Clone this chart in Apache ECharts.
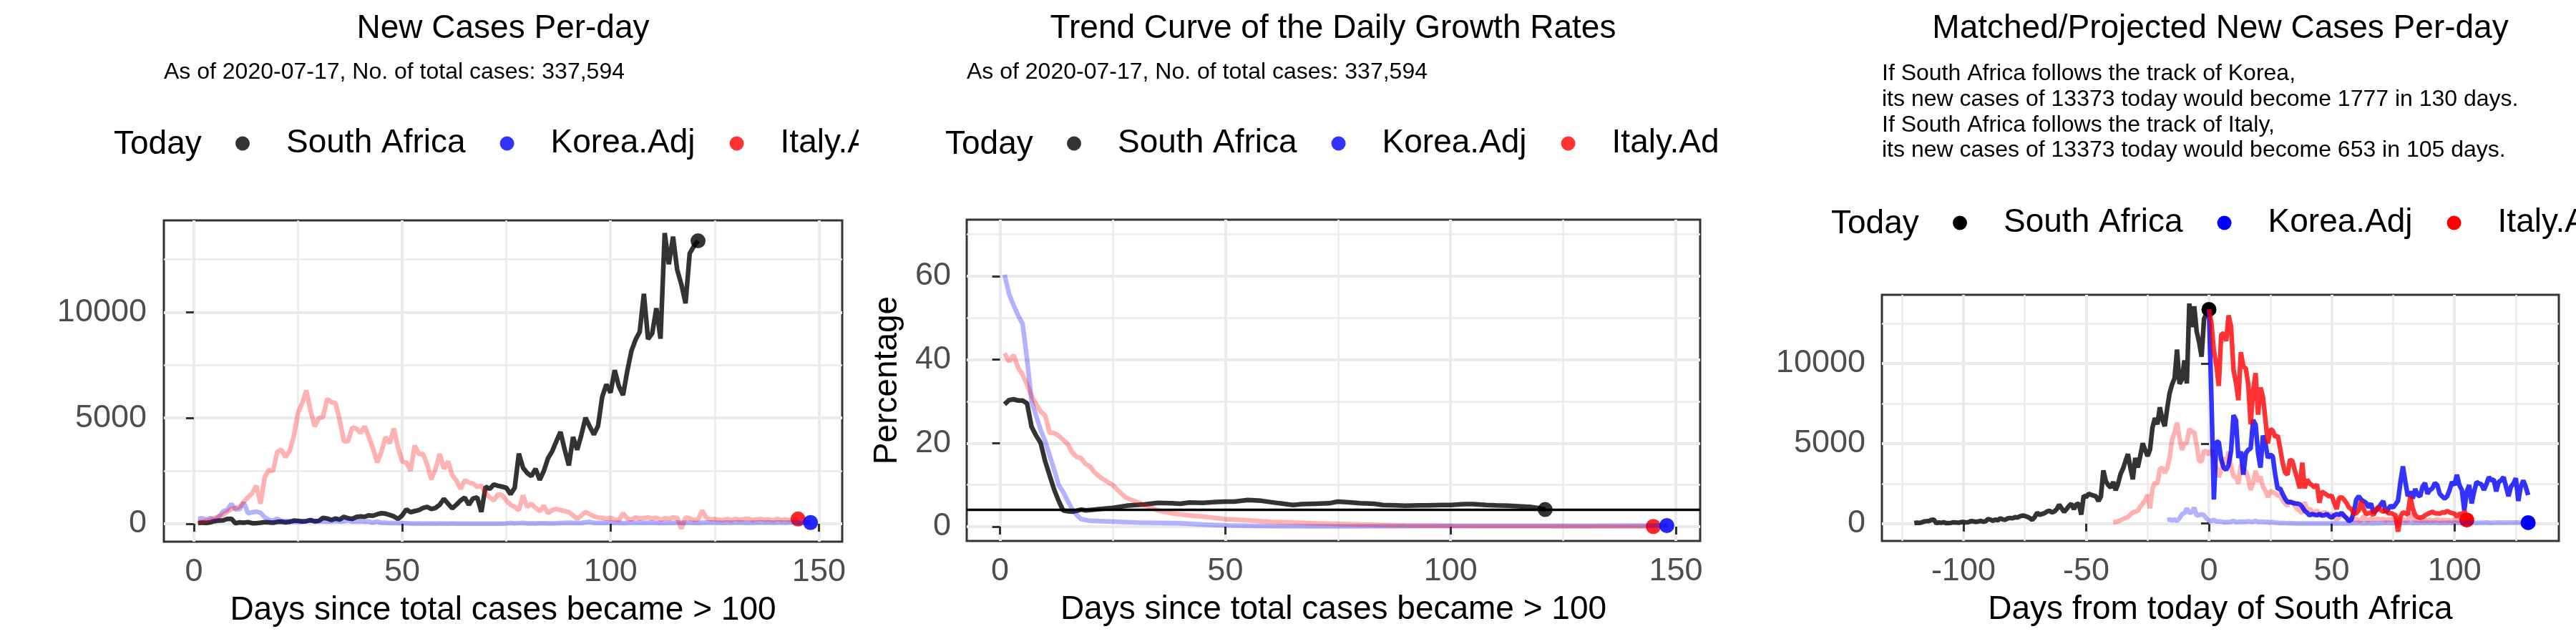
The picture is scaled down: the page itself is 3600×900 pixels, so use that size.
<!DOCTYPE html>
<html lang="en">
<head>
  <meta charset="UTF-8">
  <title>South Africa - new cases per day</title>
  <script src="https://cdn.jsdelivr.net/npm/echarts@6.0.0/dist/echarts.min.js"></script>
  <style>
    body { margin: 0; background: #fff; }
    #wrap { width: 3600px; height: 900px; display: flex; }
    .panel { width: 1200px; height: 900px; }
  </style>
</head>
<body>
  <div id="wrap">
    <div class="panel" id="p1"></div>
    <div class="panel" id="p2"></div>
    <div class="panel" id="p3"></div>
  </div>
  <script>
    // daily new cases, day 1 = first day after total cases > 100
    const saNew = [
      30, 55, 40, 70, 130, 150, 160, 230, 240, 20,
      70, 50, 80, 30, 30, 50, 80, 70, 50, 90,
      100, 70, 90, 150, 140, 110, 130, 170, 120, 140,
      280, 250, 180, 250, 200, 330, 260, 230, 320, 350,
      330, 400, 380, 450, 500, 480, 420, 350, 230, 400,
      680, 550, 600, 650, 750, 800, 700, 750, 900, 1180,
      950, 730, 900, 1100, 1240, 900, 1200, 1250, 560, 1750,
      1650, 1860, 1800, 1750, 1700, 1400, 1700, 3320, 2650, 2400,
      2250, 2600, 2080, 2500, 3100, 3430, 3900, 4340, 3500, 2760,
      4100, 3500, 4200, 5010, 4600, 4220, 4620, 6000, 6590, 6200,
      7260, 6500, 6080, 7200, 8160, 8700, 9070, 10870, 8730, 9000,
      10190, 8750, 13740, 12270, 13570, 12000, 11320, 10420, 12780, 13120,
      13373
    ]
    const koreaNew = [
      230, 260, 200, 270, 170, 330, 580, 660, 940, 680,
      690, 1000, 500, 540, 580, 520, 310, 190, 150, 240,
      130, 130, 125, 90, 85, 100, 110, 175, 100, 115,
      120, 110, 120, 145, 120, 115, 170, 105, 125, 115,
      100, 110, 55, 110, 55, 50, 35, 40, 30, 25,
      30, 20, 10, 15, 10, 15, 10, 10, 15, 5,
      10, 15, 5, 10, 5, 5, 5, 10, 5, 5,
      5, 5, 5, 5, 15, 40, 20, 30, 40, 15,
      25, 20, 30, 25, 15, 20, 25, 35, 45, 55,
      45, 30, 40, 70, 90, 45, 45, 45, 45, 60,
      40, 50, 30, 45, 60, 40, 60, 45, 55, 60,
      40, 35, 40, 40, 45, 60, 40, 55, 55, 40,
      45, 55, 60, 60, 55, 50, 45, 60, 55, 60,
      70, 55, 45, 55, 60, 70, 55, 65, 50, 60,
      70, 55, 65, 70, 60, 45, 70, 60
    ]
    const italyNew = [
      80, 100, 150, 200, 280, 350, 420, 560, 700, 750,
      800, 1050, 1250, 1450, 1800, 950, 2200, 2550, 2500, 3400,
      3500, 3150, 3450, 4150, 5250, 5700, 6300, 5350, 4600, 5000,
      5050, 5900, 5750, 5700, 4900, 3900, 3900, 4550, 4500, 4300,
      4600, 4100, 3550, 2900, 3400, 4100, 3800, 4500, 3600, 2950,
      2900, 2500, 3700, 3300, 3300, 2800, 2100, 2600, 3300, 2600,
      2950, 2300, 2050, 1650, 2050, 1950, 1900, 1750, 1800, 1450,
      1250, 1100, 1400, 1350, 1100, 900, 800, 650, 1350, 800,
      950, 750, 600, 850, 500, 650, 700, 650, 600, 550,
      400, 230, 400, 560, 450, 350, 300, 280, 230, 280,
      200, 170, 500, 250, 200, 300, 250, 270, 300, 250,
      290, 200, 260, 230, 300, 280, -230, 300, 250, 180,
      200, 620, 280, 200, 230, 190, 180, 220, 170, 230,
      190, 220, 240, 180, 200, 230, 190, 210, 160, 230,
      180, 200, 170, 210, 225
    ]

    // trend of daily growth rate (%), [day, rate]
    const saRate = [
      [1, 29.3], [2, 30.3], [3, 30.5], [4, 30.2], [5, 30.2], [6, 29.5], [7, 23.9], [8, 21.8],
      [9, 20.1], [10, 15.7], [11, 12.3], [12, 8.9], [13, 6.2], [14, 3.9], [15, 3.7], [16, 3.6],
      [17, 3.8], [18, 4.1], [19, 3.9], [20, 4.0], [22, 4.2], [25, 4.5], [28, 5.0], [30, 5.2],
      [32, 5.3], [35, 5.7], [38, 5.6], [40, 5.5], [42, 5.8], [45, 5.7], [48, 5.9], [50, 6.0],
      [52, 6.0], [55, 6.4], [58, 6.2], [60, 5.9], [62, 5.6], [65, 5.2], [67, 5.4], [70, 5.5],
      [73, 5.6], [75, 6.0], [78, 5.8], [80, 5.6], [83, 5.5], [85, 5.2], [88, 5.1], [90, 5.0],
      [93, 5.1], [95, 5.1], [98, 5.2], [100, 5.2], [103, 5.4], [105, 5.4], [108, 5.2], [110, 5.1],
      [113, 5.0], [115, 4.9], [118, 4.7], [120, 4.4], [121, 4.1]
    ]
    const koreaRate = [
      [1, 60.3], [2, 55.7], [3, 53], [4, 50.6], [5, 48.6], [6, 40], [7, 30], [8, 26.6],
      [9, 23.2], [10, 20.5], [11, 17.1], [12, 13.7], [13, 10], [14, 8.3], [15, 6.2], [16, 4.2],
      [17, 2.8], [18, 1.8], [20, 1.4], [25, 1.2], [30, 1.0], [35, 0.9], [40, 0.8], [45, 0.5],
      [50, 0.3], [55, 0.2], [60, 0.15], [70, 0.1], [80, 0.1], [90, 0.15], [100, 0.2], [110, 0.2],
      [120, 0.2], [130, 0.2], [140, 0.25], [148, 0.27]
    ]
    const italyRate = [
      [1, 41.5], [2, 39.5], [3, 41.1], [4, 38.1], [5, 36.4], [6, 34], [7, 31.3], [8, 29.3],
      [9, 27.6], [10, 26.6], [11, 22.5], [12, 22.4], [13, 21.8], [14, 20.8], [15, 19.8], [16, 17.8],
      [17, 16.7], [18, 16.4], [19, 15], [20, 14.4], [21, 13], [22, 12], [23, 11.3], [24, 10.6],
      [25, 10], [26, 8.9], [28, 6.9], [30, 6.1], [32, 5.2], [35, 3.9], [38, 3.2], [42, 2.7],
      [46, 2.3], [50, 1.8], [55, 1.5], [60, 1.15], [65, 1.0], [70, 0.8], [75, 0.65], [80, 0.5],
      [90, 0.3], [100, 0.15], [110, 0.1], [120, 0.08], [130, 0.06], [145, 0.05]
    ]
    const saTodayRate = 4.15

    // projected new cases from today (day 0) of South Africa
    const koreaProj = [
      13373, 7900, 1500, 5100, 5100, 4000, 3500, 3350, 3650, 4540,
      6770, 6470, 4100, 4500, 3050, 4390, 4600, 4700, 6470, 6180,
      4400, 3500, 5500, 5000, 4100, 4300, 4200, 3050, 2160, 2200,
      1860, 1560, 1340, 1350, 1300, 1260, 1250, 1200, 1040, 800,
      670, 520, 600, 550, 520, 600, 500, 520, 600, 450,
      370, 520, 600, 550, 670, 500, 350, 150, 250, 700,
      1490, 1710, 1500, 1400, 1300, 1000, 1260, 670, 800, 970,
      1200, 1410, 700, 900, 1120, 1000, 1200, 1420, 2600, 3570,
      2600, 1710, 2000, 1560, 2160, 1800, 1700, 2310, 2530, 1860,
      2100, 2200, 2530, 2400, 1860, 1700, 1560, 1700, 2100, 2600,
      2400, 3050, 2400, 2100, 820, 2000, 2400, 1260, 2000, 2600,
      2500, 2450, 2100, 2450, 2900, 2700, 2750, 2010, 2600, 2700,
      2900, 2300, 1710, 2300, 2500, 2830, 1410, 2300, 2700, 2300,
      1777
    ]
    const italyProj = [
      13373, 12500, 10800, 9900, 8600, 11800, 11900, 11400, 13000, 12300,
      9600, 8800, 7700, 10700, 9800, 9700, 8700, 6200, 8300, 9400,
      6800, 8500, 7900, 6500, 5000, 5900, 5800, 5400, 5500, 4700,
      3800, 3200, 3050, 4000, 3900, 3300, 2800, 2200, 3800, 2200,
      2750, 2500, 2400, 2250, 2450, 1300, 2000, 1900, 1800, 1700,
      1750, 1300, 900, 1600, 1650, 1500, 1300, 1000, 900, 600,
      650, 820, 1400, 900, 600, 650, 700, 520, 900, 1040,
      820, 750, 850, 650, 650, 600, 520, -500, 450, 700,
      650, 560, 1700, 950, 520, 400, 370, 400, 520, 600,
      670, 740, 650, 640, 620, 700, 680, 790, 700, 650,
      620, 430, 600, 620, 700, 653
    ]
    // day offsets used to line the tracks up with today of South Africa
    const saShift = -121
    const koreaShift = -18
    const italyShift = -40

    const dayTicks = [0, 50, 100, 150]
    const dayMinor = [25, 75, 125]
    const caseTicks = [0, 5000, 10000]
    const caseMinor = [2500, 7500, 12500]
    const rateTicks = [0, 20, 40, 60]
    const rateMinor = [10, 30, 50, 70]
    const fromTodayTicks = [-100, -50, 0, 50, 100]
    const fromTodayMinor = [-125, -75, -25, 25, 75, 125]

    const FONT = '"Liberation Sans", Arial, sans-serif'
    const GRID = '#EBEBEB'

    const shifted = (arr, shift) => arr.map((v, i) => [i + 1 + shift, v])
    const fromZero = arr => arr.map((v, i) => [i, v])
    const last = arr => arr[arr.length - 1]

    function axes(min, max, major, minor, name, nameGap, margin) {
      return [
        {
          type: 'value', min, max, name, nameGap,
          nameLocation: 'middle',
          nameTextStyle: { color: '#000', fontSize: 46, fontFamily: FONT },
          axisLine: { show: false },
          axisTick: { show: true, length: 11, customValues: major, lineStyle: { color: '#333333', width: 3 } },
          axisLabel: { customValues: major, margin, formatter: v => String(v), color: '#4D4D4D', fontSize: 45, fontFamily: FONT },
          splitLine: { show: true, customValues: major, lineStyle: { color: GRID, width: 4 } }
        },
        {
          type: 'value', min, max,
          axisLine: { show: false },
          axisTick: { show: false, customValues: minor },
          axisLabel: { show: false },
          splitLine: { show: true, customValues: minor, lineStyle: { color: GRID, width: 2.5 } }
        }
      ]
    }

    function line(name, data, color, width) {
      return {
        type: 'line', name, data, color,
        showSymbol: false, symbol: 'none', silent: true,
        lineStyle: { width: width || 6.5, color },
        emphasis: { disabled: true }
      }
    }

    function dot(name, point, color) {
      return {
        type: 'scatter', name, data: [point], color,
        symbolSize: 21, silent: true,
        itemStyle: { color, opacity: 1 },
        emphasis: { disabled: true }
      }
    }

    function legend(left, top, colors) {
      const names = ['South Africa', 'Korea.Adj', 'Italy.Adj']
      return {
        left, top, width: 3000, padding: 0,
        orient: 'horizontal',
        icon: 'circle',
        itemWidth: 20, itemHeight: 20, itemGap: 48,
        selectedMode: false,
        itemStyle: { borderWidth: 0 },
        textStyle: { color: '#000', fontSize: 46, fontFamily: FONT, padding: [0, 0, 0, 46] },
        data: names.map((n, i) => ({ name: n, itemStyle: { color: colors[i], borderWidth: 0 } }))
      }
    }

    function text(str, x, y, size, align) {
      return {
        type: 'text', x, y, silent: true,
        style: { text: str, fill: '#000', font: size + 'px ' + FONT, align: align || 'left', verticalAlign: 'middle' }
      }
    }

    const soft = ['rgba(0,0,0,0.8)', 'rgba(0,0,255,0.8)', 'rgba(255,0,0,0.8)']
    const gridBox = { show: true, borderColor: '#333333', borderWidth: 3, backgroundColor: 'transparent' }

    // panel 1: new cases per day
    const chart1 = echarts.init(document.getElementById('p1'))
    chart1.setOption({
      animation: false,
      textStyle: { fontFamily: FONT },
      graphic: [
        text('New Cases Per-day', 703, 40.5, 46, 'center'),
        text('As of 2020-07-17, No. of total cases: 337,594', 229, 101.5, 32),
        text('Today', 159, 202, 46)
      ],
      legend: legend(329, 177.5, soft),
      grid: Object.assign({ left: 229, right: 23, top: 308, bottom: 143 }, gridBox),
      xAxis: axes(-7.2, 155.6, dayTicks, dayMinor, 'Days since total cases became > 100', 73, 20),
      yAxis: axes(-845, 14340, caseTicks, caseMinor, '', 0, 24),
      series: [
        line('South Africa', shifted(saNew, 0), 'rgba(0,0,0,0.8)'),
        line('Korea.Adj', shifted(koreaNew, 0), 'rgba(0,0,255,0.3)'),
        line('Italy.Adj', shifted(italyNew, 0), 'rgba(255,0,0,0.3)'),
        dot('South Africa', [saNew.length, last(saNew)], 'rgba(0,0,0,0.8)'),
        dot('Italy.Adj', [italyNew.length, last(italyNew)], 'rgba(255,0,0,0.85)'),
        dot('Korea.Adj', [koreaNew.length, last(koreaNew)], 'rgba(0,0,255,0.85)')
      ]
    })

    // panel 2: trend curve of the daily growth rates
    const chart2 = echarts.init(document.getElementById('p2'))
    const saRateLine = line('South Africa', saRate, 'rgba(0,0,0,0.8)')
    saRateLine.markLine = {
      silent: true, symbol: 'none', label: { show: false },
      lineStyle: { color: '#000', width: 3.3, type: 'solid' },
      emphasis: { disabled: true },
      data: [{ yAxis: saTodayRate }]
    }
    chart2.setOption({
      animation: false,
      textStyle: { fontFamily: FONT },
      graphic: [
        text('Trend Curve of the Daily Growth Rates', 663, 40.5, 46, 'center'),
        text('As of 2020-07-17, No. of total cases: 337,594', 151, 101.5, 32),
        text('Today', 121, 202, 46)
      ],
      legend: legend(291, 177.5, soft),
      grid: Object.assign({ left: 151, right: 24, top: 307, bottom: 144 }, gridBox),
      xAxis: axes(-7.4, 155.4, dayTicks, dayMinor, 'Days since total cases became > 100', 73, 20),
      yAxis: axes(-3.42, 73.5, rateTicks, rateMinor, 'Percentage', 88, 22),
      series: [
        saRateLine,
        line('Korea.Adj', koreaRate, 'rgba(0,0,255,0.3)'),
        line('Italy.Adj', italyRate, 'rgba(255,0,0,0.3)'),
        dot('South Africa', last(saRate), 'rgba(0,0,0,0.8)'),
        dot('Italy.Adj', last(italyRate), 'rgba(255,0,0,0.85)'),
        dot('Korea.Adj', last(koreaRate), 'rgba(0,0,255,0.85)')
      ]
    })

    // panel 3: matched / projected new cases per day
    const chart3 = echarts.init(document.getElementById('p3'))
    const notes = [
      'If South Africa follows the track of Korea,',
      'its new cases of 13373 today would become 1777 in 130 days.',
      'If South Africa follows the track of Italy,',
      'its new cases of 13373 today would become 653 in 105 days.'
    ]
    chart3.setOption({
      animation: false,
      textStyle: { fontFamily: FONT },
      graphic: [
        text('Matched/Projected New Cases Per-day', 703, 40.5, 46, 'center'),
        {
          type: 'text', x: 230, y: 85.6, silent: true,
          style: { text: notes.join('\n'), fill: '#000', font: '32px ' + FONT, lineHeight: 35.7, align: 'left', verticalAlign: 'top' }
        },
        text('Today', 159, 313, 46)
      ],
      legend: legend(329, 288.5, ['#000000', '#0000FF', '#FF0000']),
      grid: Object.assign({ left: 230, right: 24, top: 412, bottom: 144 }, gridBox),
      xAxis: axes(-133.2, 142.5, fromTodayTicks, fromTodayMinor, 'Days from today of South Africa', 73, 20),
      yAxis: axes(-1085, 14286, caseTicks, caseMinor, '', 0, 23),
      series: [
        line('South Africa', shifted(saNew, saShift), 'rgba(0,0,0,0.8)'),
        line('Korea.Adj', shifted(koreaNew, koreaShift), 'rgba(0,0,255,0.3)'),
        line('Italy.Adj', shifted(italyNew, italyShift), 'rgba(255,0,0,0.3)'),
        line('Korea.Adj', fromZero(koreaProj), 'rgba(0,0,255,0.8)'),
        line('Italy.Adj', fromZero(italyProj), 'rgba(255,0,0,0.8)'),
        dot('South Africa', [saNew.length + saShift, last(saNew)], '#000000'),
        dot('Italy.Adj', [italyNew.length + italyShift, last(italyNew)], '#FF0000'),
        dot('Korea.Adj', [koreaNew.length + koreaShift, last(koreaNew)], '#0000FF')
      ]
    })
  </script>
</body>
</html>
